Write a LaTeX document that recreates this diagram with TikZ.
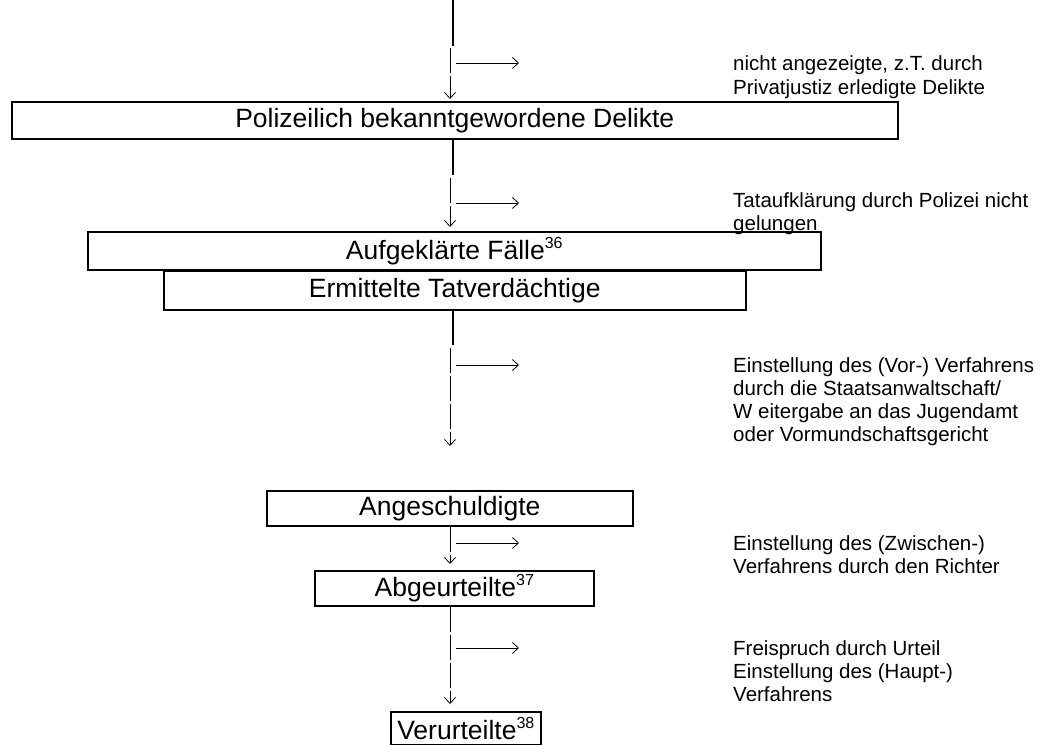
\documentclass[tikz,border=0pt]{standalone}
\usepackage{fontspec}
\setmainfont{Liberation Sans}
\usetikzlibrary{arrows.meta}
\newcommand{\boxfont}{\fontsize{26.5}{30}\selectfont}
\newcommand{\sidefont}{\fontsize{20.5}{23.3}\selectfont}
\newcommand{\fn}[1]{\raisebox{0.42em}{\fontsize{16}{16}\selectfont #1}}
\begin{document}
\begin{tikzpicture}[x=1pt,y=-1pt,
  box/.style={draw, line width=1.6pt, inner sep=0pt, anchor=north west, font=\boxfont},
  side/.style={anchor=base west, inner sep=0pt, font=\sidefont},
  trunk/.style={line width=1.5pt},
  stem/.style={line width=0.8pt, dash pattern=on 25pt off 3pt, -{Straight Barb[length=6pt,width=11pt]}},
  branch/.style={line width=0.8pt, -{Straight Barb[length=6pt,width=11pt]}}]
\useasboundingbox (0,0) rectangle (1048,744);

% boxes
\node[box, minimum width=886pt, minimum height=37pt] (b1) at (11,101) {Polizeilich bekanntgewordene Delikte};
\node[box, minimum width=733pt, minimum height=38pt] (b2) at (87,231) {Aufgekl\"arte F\"alle\fn{36}};
\node[box, minimum width=582pt, minimum height=39pt] (b3) at (163,270) {Ermittelte Tatverd\"achtige};
\node[box, minimum width=366pt, minimum height=35pt] (b4) at (266,490) {Angeschuldigte};
\node[box, minimum width=279pt, minimum height=35pt] (b5) at (314,570) {Abgeurteilte\fn{37}};
\node[box, minimum width=150pt, minimum height=33pt] (b6) at (390,711) {Verurteilte\fn{38}};

% section 1
\coordinate (top) at (453,0);
\coordinate (t1) at (453,46);
\coordinate (s1) at (450,48);
\coordinate (h1s) at (456,63);
\coordinate (h1e) at (519,63);
\draw[trunk] (top) -- (t1);
\draw[stem, shorten >=2pt] (s1) -- (s1 |- b1.north);
\draw[branch] (h1s) -- (h1e);
\node[side] (n1a) at (733,70) {nicht angezeigte, z.T. durch};
\node[side] (n1b) at (733,94) {Privatjustiz erledigte Delikte};

% section 2
\coordinate (t2) at (453,175);
\coordinate (s2) at (450,178);
\coordinate (h2s) at (456,203);
\coordinate (h2e) at (519,203);
\draw[trunk] (b1.south -| t2) -- (t2);
\draw[stem, shorten >=4pt] (s2) -- (s2 |- b2.north);
\draw[branch] (h2s) -- (h2e);
\node[side] (n2a) at (733,207) {Tataufkl\"arung durch Polizei nicht};
\node[side] (n2b) at (733,230) {gelungen};

% section 3
\coordinate (t3) at (453,345);
\coordinate (s3) at (450,348);
\coordinate (a3) at (450,446);
\coordinate (h3s) at (456,365);
\coordinate (h3e) at (519,365);
\draw[trunk] (b3.south -| t3) -- (t3);
\draw[stem] (s3) -- (a3);
\draw[branch] (h3s) -- (h3e);
\node[side] (n3a) at (733,372) {Einstellung des (Vor-) Verfahrens};
\node[side] (n3b) at (733,395) {durch die Staatsanwaltschaft/};
\node[side] (n3c) at (733,418) {W eitergabe an das Jugendamt};
\node[side] (n3d) at (733,441) {oder Vormundschaftsgericht};

% section 4
\coordinate (s4) at (450,525);
\coordinate (h4s) at (456,543);
\coordinate (h4e) at (519,543);
\draw[stem, shorten >=6pt] (b4.south -| s4) -- (s4 |- b5.north);
\draw[branch] (h4s) -- (h4e);
\node[side] (n4a) at (733,550) {Einstellung des (Zwischen-)};
\node[side] (n4b) at (733,573) {Verfahrens durch den Richter};

% section 5
\coordinate (s5) at (450,605);
\coordinate (h5s) at (456,648);
\coordinate (h5e) at (519,648);
\draw[stem, shorten >=7pt] (b5.south -| s5) -- (s5 |- b6.north);
\draw[branch] (h5s) -- (h5e);
\node[side] (n5a) at (733,655) {Freispruch durch Urteil};
\node[side] (n5b) at (733,678) {Einstellung des (Haupt-)};
\node[side] (n5c) at (733,701) {Verfahrens};
\end{tikzpicture}
\end{document}
